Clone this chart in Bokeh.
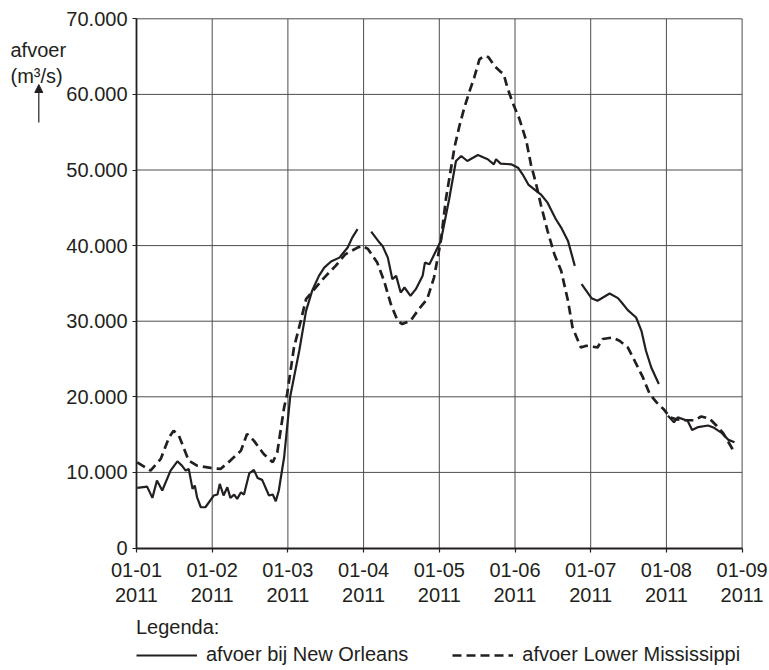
from bokeh.plotting import figure
from bokeh.models import (Range1d, FixedTicker, Label, Arrow, NormalHead, Legend, LegendItem,
                          ColumnDataSource, LinearAxis)
from bokeh.embed import file_html
from bokeh.resources import INLINE
import numpy as np

# ---- data (x in months since 01-01-2011; every month drawn equally wide) ----
month_ticks = [0, 1, 2, 3, 4, 5, 6, 7, 8]
month_labels = ["01-01\n2011", "01-02\n2011", "01-03\n2011", "01-04\n2011", "01-05\n2011",
                "01-06\n2011", "01-07\n2011", "01-08\n2011", "01-09\n2011"]
y_ticks = [0, 10000, 20000, 30000, 40000, 50000, 60000, 70000]
y_labels = ["0", "10.000", "20.000", "30.000", "40.000", "50.000", "60.000", "70.000"]

nola_t = [0.01, 0.14, 0.21, 0.27, 0.34, 0.45, 0.54, 0.60, 0.65, 0.69, 0.74, 0.77, 0.80, 0.85, 0.91,
          1.02, 1.07, 1.10, 1.15, 1.20, 1.24, 1.29, 1.33, 1.38, 1.42, 1.49, 1.55, 1.60, 1.66, 1.75,
          1.80, 1.84, 1.88, 1.95, 2.03, 2.08, 2.15, 2.24, 2.32, 2.41, 2.48, 2.57, 2.68, 2.79, 2.85,
          2.92, 3.01, 3.10, 3.21, 3.25, 3.32, 3.38, 3.43, 3.49, 3.54, 3.62, 3.69, 3.78, 3.81, 3.87,
          4.02, 4.13, 4.22, 4.29, 4.37, 4.51, 4.64, 4.72, 4.75, 4.81, 4.95, 5.04, 5.10, 5.18, 5.28,
          5.34, 5.43, 5.54, 5.61, 5.70, 5.79, 5.84, 5.88, 6.01, 6.09, 6.25, 6.36, 6.42, 6.49, 6.60,
          6.67, 6.73, 6.80, 6.90, 6.96, 7.02, 7.10, 7.15, 7.28, 7.34, 7.42, 7.55, 7.63, 7.72, 7.82,
          7.90]
nola_q = [7950, 8120, 6630, 8920, 7600, 10240, 11470, 10900, 10240, 10460, 7820, 8260, 6710, 5390, 5390,
          6940, 7070, 8480, 6940, 8030, 6630, 7070, 6500, 7370, 7070, 9880, 10330, 9270, 9010, 6940,
          7070, 6180, 7600, 12000, 20000, 22560, 26090, 31370, 34020, 36000, 37090, 37890, 38410, 39740, 41060,
          42170, None, 41850, 40400, 39960, 38410, 35560, 36000, 33790, 34460, 33360, 34240, 36000, 37750, 37540,
          40620, 46130, 51190, 51850, 51190, 51980, 51420, 50750, 51420, 50840, 50750, 50310, 49430, 48020, 47230,
          46790, 45680, 43490, 42380, 40620, 37320, None, 34900, 33050, 32700, 33660, 33050, 32340, 31470, 30490,
          28730, 26090, 23880, 21690, None, 17500, 16620, 17280, 16840, 15600, 16000, 16200, 15900, 15300, 14300,
          13980]

lm_t = [0.01, 0.185, 0.32, 0.43, 0.49, 0.56, 0.69, 0.80, 0.98, 1.11, 1.24, 1.38, 1.46, 1.55, 1.68,
        1.80, 1.86, 1.95, 1.99, 2.08, 2.17, 2.24, 2.35, 2.48, 2.63, 2.76, 2.92, 2.99, 3.06, 3.18,
        3.27, 3.36, 3.45, 3.51, 3.62, 3.73, 3.84, 3.93, 4.02, 4.09, 4.20, 4.26, 4.33, 4.40, 4.46,
        4.53, 4.59, 4.65, 4.73, 4.81, 4.85, 4.90, 4.97, 5.06, 5.15, 5.21, 5.28, 5.34, 5.43, 5.52,
        5.61, 5.70, 5.76, 5.87, 5.94, 6.09, 6.16, 6.29, 6.38, 6.49, 6.58, 6.69, 6.78, 6.87, 6.96,
        7.05, 7.14, 7.24, 7.37, 7.46, 7.57, 7.66, 7.75, 7.88]
lm_q = [11340, 10240, 11780, 14640, 15520, 14860, 11560, 10900, 10590, 10460, 11560, 12880, 15090, 14200, 12440,
        11340, 12660, 18600, 20370, 26520, 30050, 32920, 34240, 35770, 37320, 38860, 39740, 39960, 39520, 37750,
        35340, 32260, 30050, 29620, 30050, 31600, 32920, 35770, 40620, 46340, 52950, 55590, 58230, 60440, 62190,
        64630, 65060, 64930, 63740, 62990, 62720, 60870, 58890, 56700, 53830, 50750, 48110, 45470, 41940, 38860,
        36660, 32700, 29170, 26530, 26750, 26530, 27640, 27850, 27410, 26530, 24770, 22560, 20370, 19260, 18390,
        17280, 17000, 16900, 16900, 17400, 17100, 16200, 15200, 12970]

FONT = "Liberation Sans"
FS = "20px"
INK = "#231f20"
W, H = 769, 670
# plot area in page pixels
L, R, T, B = 136.0, 741.6, 18.3, 547.5
sx = (R - L) / (month_ticks[-1] - month_ticks[0])
sy = (B - T) / (y_ticks[-1] - y_ticks[0])

def px2x(px):
    return (px - L) / sx

def py2y(py):
    return (B - py) / sy

def arr(v):
    return np.array([np.nan if a is None else a for a in v], dtype=float)

p = figure(width=W, height=H, x_range=Range1d(px2x(0), px2x(W)), y_range=Range1d(py2y(H), py2y(0)),
           x_axis_type=None, y_axis_type=None, min_border=0,
           output_backend="svg", toolbar_location=None)
p.background_fill_color = "white"
p.border_fill_color = "white"
p.outline_line_color = None

# grid lines (at every tick, inside the plot area)
GRID = "#4d4d4d"
p.segment(x0=month_ticks[1:], x1=month_ticks[1:], y0=[y_ticks[0]] * 8, y1=[y_ticks[-1]] * 8,
          line_color=GRID, line_width=1)
p.segment(x0=[month_ticks[0]] * 7, x1=[month_ticks[-1]] * 7, y0=y_ticks[1:], y1=y_ticks[1:],
          line_color=GRID, line_width=1)

xax = LinearAxis(fixed_location=0, bounds=(0, 8))
yax = LinearAxis(fixed_location=0, bounds=(0, 70000))
for ax, ticks, labels in ((xax, month_ticks, month_labels), (yax, y_ticks, y_labels)):
    ax.ticker = FixedTicker(ticks=ticks)
    ax.major_label_overrides = {t: l for t, l in zip(ticks, labels)}
    ax.major_label_text_font = FONT
    ax.major_label_text_font_size = FS
    ax.major_label_text_color = INK
    ax.major_label_text_line_height = 1.15
    ax.axis_line_color = INK
    ax.axis_line_width = 1.8
    ax.major_tick_line_color = INK
    ax.major_tick_line_width = 1.2
    ax.major_tick_out = 4
    ax.major_tick_in = 0
    ax.minor_tick_line_color = None
xax.major_label_standoff = 7
yax.major_label_standoff = 5
p.add_layout(xax, "below")
p.add_layout(yax, "left")

src_n = ColumnDataSource(dict(t=nola_t, q=arr(nola_q)))
src_l = ColumnDataSource(dict(t=lm_t, q=arr(lm_q)))
r_l = p.line("t", "q", source=src_l, line_color=INK, line_width=2.7, line_dash="9 5")
r_n = p.line("t", "q", source=src_n, line_color=INK, line_width=2.2)

# y axis title with arrow
p.add_layout(Label(x=px2x(10), y=py2y(49), text="afvoer", text_font=FONT, text_font_size=FS,
                   text_color=INK, text_baseline="alphabetic", text_align="left"))
p.add_layout(Label(x=px2x(10), y=py2y(75), text="(m³/s)", text_font=FONT, text_font_size=FS,
                   text_color=INK, text_baseline="alphabetic", text_align="left"))
p.add_layout(Arrow(x_start=px2x(38.3), y_start=py2y(122), x_end=px2x(38.3), y_end=py2y(84),
                   line_color=INK, line_width=1.2,
                   end=NormalHead(size=8, fill_color=INK, line_color=INK)))

legend = Legend(items=[LegendItem(label="afvoer bij New Orleans", renderers=[r_n]),
                       LegendItem(label="afvoer Lower Mississippi", renderers=[r_l])],
                location=(int(L), 4), orientation="horizontal", title="Legenda:",
                title_text_font=FONT, title_text_font_size=FS, title_text_font_style="normal",
                title_text_color=INK, title_standoff=4,
                label_text_font=FONT, label_text_font_size=FS, label_text_color=INK,
                glyph_width=61, label_standoff=9, spacing=44, padding=0, margin=0,
                border_line_color=None, background_fill_alpha=0)
p.add_layout(legend)

open("out.html", "w").write(file_html(p, INLINE))
